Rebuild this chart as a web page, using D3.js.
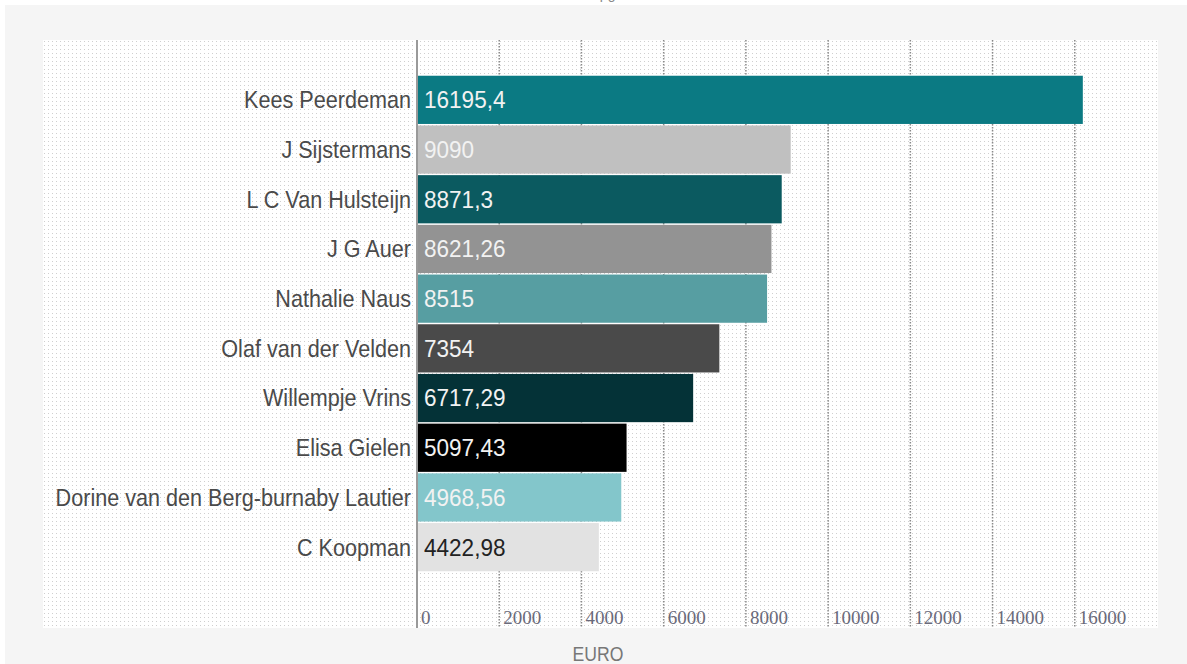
<!DOCTYPE html>
<html>
<head>
<meta charset="utf-8">
<script src="https://cdn.jsdelivr.net/npm/d3@7/dist/d3.min.js"></script>
<style>
  html, body { margin: 0; padding: 0; background: #fff; }
  svg { display: block; }
</style>
</head>
<body>
<svg id="chart" width="1187" height="664"></svg>
<script>
const categories = [
  "Kees Peerdeman", "J Sijstermans", "L C Van Hulsteijn", "J G Auer", "Nathalie Naus",
  "Olaf van der Velden", "Willempje Vrins", "Elisa Gielen",
  "Dorine van den Berg-burnaby Lautier", "C Koopman"
];
const values = [16195.4, 9090, 8871.3, 8621.26, 8515, 7354, 6717.29, 5097.43, 4968.56, 4422.98];
const valueLabels = ["16195,4", "9090", "8871,3", "8621,26", "8515", "7354", "6717,29", "5097,43", "4968,56", "4422,98"];
const barColors = ["#0b7a83", "#c0c0c0", "#0b5a60", "#939393", "#579ea2", "#4a4a4a", "#043237", "#000000", "#83c6cb", "#e2e2e2"];
const labelColors = ["#f2f2f2", "#f2f2f2", "#f2f2f2", "#f2f2f2", "#f2f2f2", "#f2f2f2", "#f2f2f2", "#f2f2f2", "#f2f2f2", "#222222"];
const tickValues = [0, 2000, 4000, 6000, 8000, 10000, 12000, 14000, 16000];
const axisTitle = "EURO";
const chartTitle = "Deelnemers die het meeste hebben opgehaald in totaal aan donaties in EURO";

const svg = d3.select("#chart");
const W = 1187, H = 664;
const plot = { left: 43, top: 40, right: 1158, bottom: 628 };
const sans = "'Liberation Sans', Arial, sans-serif";

// dotted pattern
const defs = svg.append("defs");
const pat = defs.append("pattern").attr("id", "dots").attr("width", 4).attr("height", 4)
  .attr("patternUnits", "userSpaceOnUse").attr("x", plot.left).attr("y", plot.top);
pat.append("rect").attr("width", 4).attr("height", 4).attr("fill", "#ffffff");
pat.append("rect").attr("x", 1).attr("y", 1).attr("width", 1).attr("height", 1).attr("fill", "#cfcfcf");

svg.append("rect").attr("width", W).attr("height", H).attr("fill", "#ffffff");
svg.append("rect").attr("x", 5).attr("y", 5).attr("width", W - 5).attr("height", H - 5).attr("fill", "#f5f5f5");

// title (cut off at top like reference)
svg.append("text").attr("x", 610).attr("y", -1.5).attr("text-anchor", "middle")
  .attr("font-family", sans).attr("font-size", 14).attr("fill", "#888")
  .text(chartTitle);

svg.append("rect").attr("x", plot.left).attr("y", plot.top)
  .attr("width", plot.right - plot.left).attr("height", plot.bottom - plot.top)
  .attr("fill", "url(#dots)");

const x = d3.scaleLinear().domain([0, 18000]).range([417, 1157]);
const y = d3.scaleBand().domain(categories).range([75, 572]).paddingInner(0.03).paddingOuter(0.015);

// vertical grid lines
svg.append("g").selectAll("line").data(tickValues.filter(d => d > 0)).join("line")
  .attr("x1", d => x(d)).attr("x2", d => x(d))
  .attr("y1", plot.top).attr("y2", plot.bottom)
  .attr("stroke", "#8a8a8a").attr("stroke-width", 1.5).attr("stroke-dasharray", "1.5,1.5");

// bars
const data = categories.map((c, i) => ({ c, v: values[i], lab: valueLabels[i], col: barColors[i], lc: labelColors[i] }));
svg.append("g").selectAll("rect").data(data).join("rect")
  .attr("x", x(0)).attr("y", d => y(d.c))
  .attr("width", d => x(d.v) - x(0)).attr("height", y.bandwidth())
  .attr("fill", d => d.col);

// zero axis line
svg.append("line").attr("x1", x(0)).attr("x2", x(0)).attr("y1", plot.top).attr("y2", plot.bottom)
  .attr("stroke", "#9a9a9a").attr("stroke-width", 2);

// value labels (condensed)
svg.append("g").selectAll("text").data(data).join("text")
  .attr("transform", d => `translate(${x(0) + 7},${y(d.c) + y.bandwidth() / 2}) scale(0.94,1)`)
  .attr("dy", "0.35em")
  .attr("font-family", sans).attr("font-size", 24)
  .attr("fill", d => d.lc).text(d => d.lab);

// category labels (condensed)
svg.append("g").selectAll("text").data(data).join("text")
  .attr("transform", d => `translate(${x(0) - 6},${y(d.c) + y.bandwidth() / 2}) scale(0.9,1)`)
  .attr("dy", "0.35em").attr("text-anchor", "end")
  .attr("font-family", sans).attr("font-size", 24)
  .attr("fill", "#4a4a4a").text(d => d.c);

// tick labels
svg.append("g").selectAll("text").data(tickValues).join("text")
  .attr("x", d => x(d) + 4).attr("y", 624)
  .attr("font-family", "'Liberation Serif', 'DejaVu Serif', serif").attr("font-size", 19)
  .attr("fill", "#6a6a7a").text(d => d);

// axis title
svg.append("text").attr("transform", "translate(598,661) scale(0.84,1)").attr("text-anchor", "middle")
  .attr("font-family", sans).attr("font-size", 21).attr("fill", "#777")
  .text(axisTitle);
</script>
</body>
</html>
